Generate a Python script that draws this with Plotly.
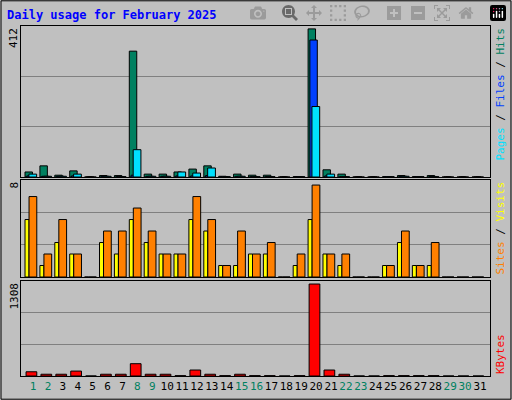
import plotly.graph_objects as go

days = list(range(1, 32))
hits = [14, 31, 5, 17, 0, 4, 4, 350, 8, 8, 14, 22, 31, 2, 8, 5, 5, 0, 1, 412, 20, 8, 0, 0, 1, 4, 1, 4, 0, 0, 0]
files = [3, 2, 2, 3, 0, 2, 1, 5, 2, 2, 3, 3, 4, 1, 2, 1, 1, 0, 1, 381, 3, 1, 0, 0, 1, 2, 1, 1, 0, 0, 0]
pages = [8, 2, 2, 8, 0, 2, 1, 76, 2, 2, 14, 11, 25, 1, 2, 1, 1, 0, 1, 196, 8, 1, 0, 0, 1, 2, 1, 1, 0, 0, 0]
sites = [5, 1, 3, 2, 0, 3, 2, 5, 3, 2, 2, 5, 4, 1, 1, 2, 2, 0, 1, 5, 2, 1, 0, 0, 1, 3, 1, 1, 0, 0, 0]
visits = [7, 2, 5, 2, 0, 4, 4, 6, 4, 2, 2, 7, 5, 1, 4, 2, 3, 0, 2, 8, 2, 2, 0, 0, 1, 4, 1, 3, 0, 0, 0]
kbytes = [60, 25, 25, 70, 0, 25, 25, 175, 25, 25, 5, 85, 25, 5, 25, 5, 5, 0, 5, 1308, 85, 25, 0, 0, 5, 5, 5, 5, 0, 0, 0]
weekend = [1, 2, 8, 9, 15, 16, 22, 23, 29, 30]

mono = "DejaVu Sans Mono"
line = dict(color="black", width=1)

fig = go.Figure()

def bars(vals, color, offset, width, xa, ya):
    fig.add_trace(go.Bar(x=days, y=vals, marker=dict(color=color, line=line),
                         offset=offset, width=width, xaxis=xa, yaxis=ya))

bars(hits, "#008060", -0.54, 0.5, "x", "y")
bars(files, "#0040ff", -0.42, 0.5, "x", "y")
bars(pages, "#00e0ff", -0.28, 0.52, "x", "y")
bars(sites, "#ffff00", -0.54, 0.27, "x2", "y2")
bars(visits, "#ff8000", -0.27, 0.52, "x2", "y2")
bars(kbytes, "#ff0000", -0.47, 0.72, "x3", "y3")

ticktext = [f'<span style="color:{"#008060" if d in weekend else "black"}">{d}</span>' for d in days]

xcommon = dict(range=[0.19, 31.67], domain=[0.041, 0.957], showgrid=False, zeroline=False,
               showline=True, linecolor="black", mirror=True, fixedrange=True, automargin=False)
fig.update_layout(
    xaxis=dict(xcommon, anchor="y", showticklabels=False),
    xaxis2=dict(xcommon, anchor="y2", showticklabels=False),
    xaxis3=dict(xcommon, anchor="y3", tickvals=days, ticktext=ticktext, ticks="", tickangle=0,
                tickfont=dict(family=mono, size=11)),
)

ycommon = dict(showticklabels=False, gridcolor="#808080", gridwidth=1, zeroline=False,
               showline=True, linecolor="black", mirror=True, ticks="", automargin=False)
fig.update_layout(
    yaxis=dict(ycommon, domain=[0.5575, 0.935], range=[0, 420], tickvals=[140, 280], anchor="x"),
    yaxis2=dict(ycommon, domain=[0.3075, 0.55], range=[0, 8.44], tickvals=[2.8, 5.6], anchor="x2"),
    yaxis3=dict(ycommon, domain=[0.06, 0.2975], range=[0, 1351], tickvals=[450, 900], anchor="x3"),
)

ann = [
    dict(text="<b>Daily usage for February 2025</b>", x=5 / 512, y=1 - 15 / 400, xanchor="left",
         yanchor="middle", font=dict(family=mono, size=12, color="#0000ff")),
    dict(text="412", x=14 / 512, y=0.935, textangle=-90, yanchor="top", xanchor="center"),
    dict(text="8", x=14 / 512, y=0.55, textangle=-90, yanchor="top", xanchor="center"),
    dict(text="1308", x=14 / 512, y=0.2975, textangle=-90, yanchor="top", xanchor="center"),
    dict(text='<span style="color:#00e0ff">Pages</span> / <span style="color:#0040ff">Files</span>'
              ' / <span style="color:#008060">Hits</span>',
         x=500 / 512, y=0.935, textangle=-90, yanchor="top", xanchor="center"),
    dict(text='<span style="color:#ff8000">Sites</span> / <span style="color:#ffff00">Visits</span>',
         x=500 / 512, y=0.55, textangle=-90, yanchor="top", xanchor="center"),
    dict(text='<span style="color:#ff0000">KBytes</span>',
         x=500 / 512, y=0.06, textangle=-90, yanchor="bottom", xanchor="center"),
]
for a in ann:
    a.setdefault("font", dict(family=mono, size=11, color="black"))
    a.update(xref="paper", yref="paper", showarrow=False)

fig.update_layout(
    width=512, height=400, margin=dict(l=0, r=0, t=0, b=0),
    paper_bgcolor="#c0c0c0", plot_bgcolor="#c0c0c0",
    barmode="overlay", showlegend=False, annotations=ann,
    shapes=[dict(type="rect", xref="paper", yref="paper", x0=0.002, y0=0.002, x1=0.998, y1=0.998,
                 line=dict(color="black", width=1))],
)

fig.write_html("out.html", post_script="document.body.style.margin='0';")
